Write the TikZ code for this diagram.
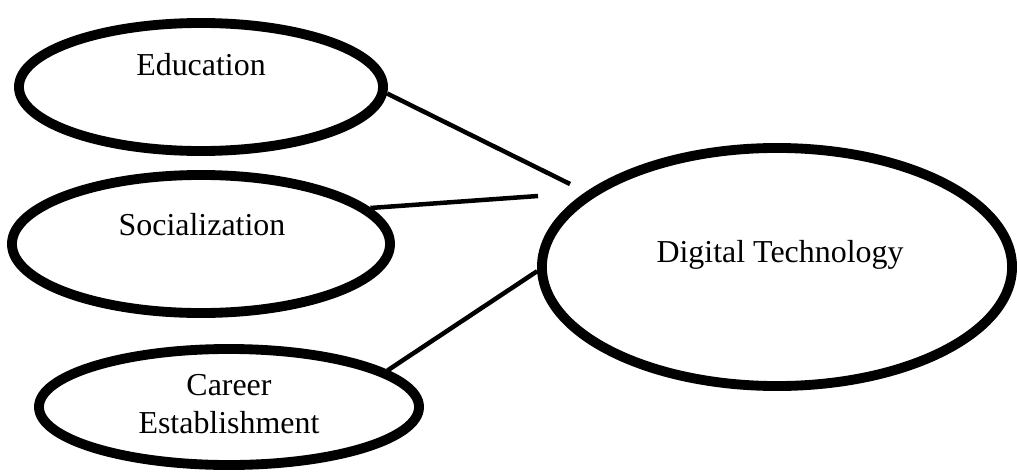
\documentclass[tikz,border=0pt]{standalone}
\usepackage{fontspec}
\setmainfont{Liberation Serif}
\usetikzlibrary{shapes.geometric}
\tikzset{
  topic/.style={draw, ellipse, line width=7pt, inner sep=0pt},
  link/.style={line width=3.2pt},
  caption/.style={font=\fontsize{22.7}{27}\selectfont, align=center, anchor=base, inner sep=0pt},
}

\begin{document}
\begin{tikzpicture}[x=0.025cm, y=-0.025cm]
    \useasboundingbox (0,0) rectangle (1017,473);
    % the four ovals
    \node[topic, minimum width=9.1cm,  minimum height=3.2cm]  (edu) at (201,87)  {};
    \node[topic, minimum width=9.45cm, minimum height=3.45cm] (soc) at (201,244) {};
    \node[topic, minimum width=9.5cm,  minimum height=2.9cm]  (car) at (229,407) {};
    \node[topic, minimum width=11.75cm, minimum height=5.95cm] (dt) at (777,267) {};
    % their texts (base = last line)
    \node[caption] (edut) at (201,76)  {Education};
    \node[caption] (soct) at (202,235) {Socialization};
    \node[caption] (cart) at (229,433) {Career\\Establishment};
    \node[caption] (dtt)  at (780,262) {Digital Technology};
    % loose ends of the two upper links
    \coordinate (gapa) at (570,184);
    \coordinate (gapb) at (538,196);
    \draw[link] (edu.-2) -- (gapa);
    \draw[link] (soc.12) -- (gapb);
    \draw[link] (car.13) -- (dt.181);
\end{tikzpicture}
\end{document}
